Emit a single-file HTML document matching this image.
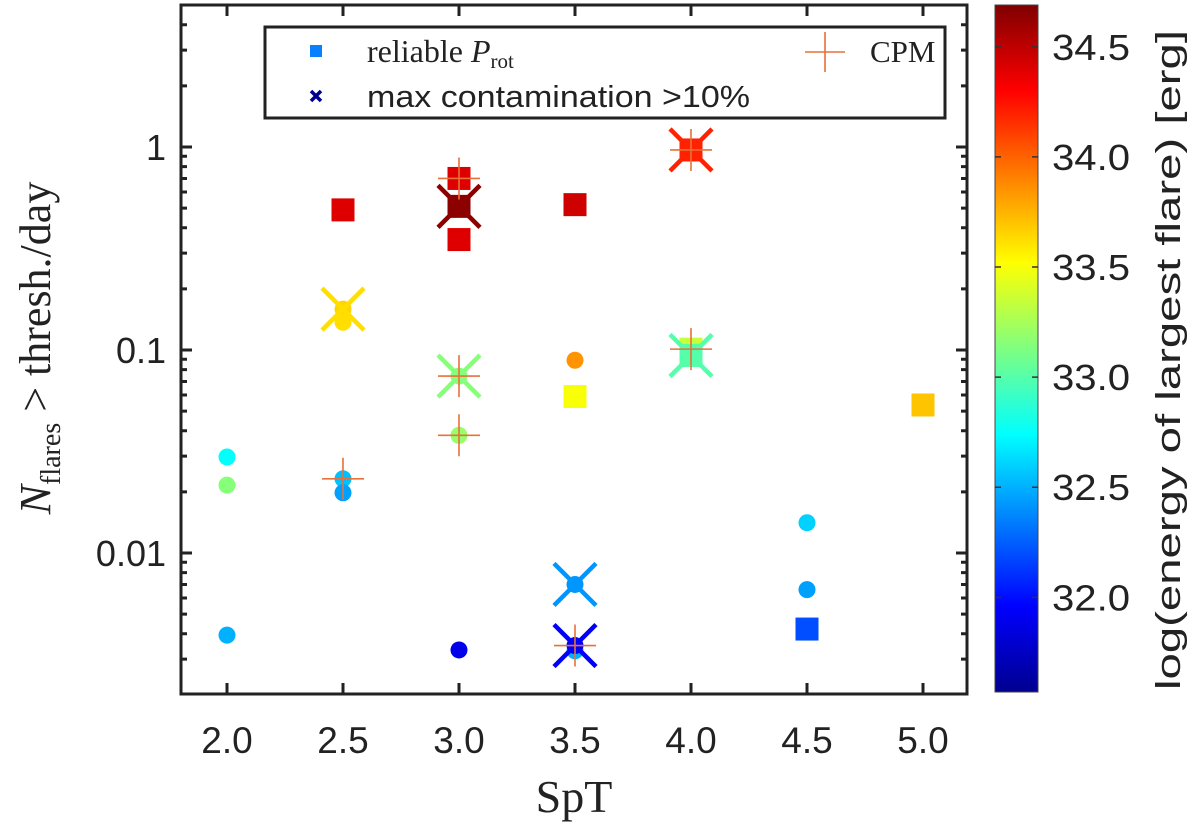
<!DOCTYPE html>
<html><head><meta charset="utf-8"><style>
html,body{margin:0;padding:0;background:#fff}
svg{display:block}
text{fill:#222}
.sans{font-family:"Liberation Sans",sans-serif}
.serif{font-family:"Liberation Serif",serif}
</style></head><body>
<svg id="chart" width="1200" height="832" viewBox="0 0 1200 832">
<defs>
<linearGradient id="jet" x1="0" y1="1" x2="0" y2="0">
<stop offset="0" stop-color="#00008f"/><stop offset="0.125" stop-color="#0000ff"/>
<stop offset="0.375" stop-color="#00ffff"/><stop offset="0.625" stop-color="#ffff00"/>
<stop offset="0.875" stop-color="#ff0000"/><stop offset="1" stop-color="#800000"/>
</linearGradient>
</defs>
<g id="marks"></g>
<g id="axes"></g>
</svg>
<script>
// circles (all stars)
const circSpT = [2.0, 2.0, 2.0, 2.5, 2.5, 2.5, 2.5, 3.0, 3.0, 3.0, 3.5, 3.5, 3.5, 3.5, 4.0, 4.5, 4.5];
const circRate = [0.0297, 0.0216, 0.00394, 0.159, 0.137, 0.0232, 0.0198, 0.0744, 0.038, 0.00333, 0.089, 0.0070, 0.0033, 0.0035, 0.094, 0.0141, 0.0066];
const circE = [32.75, 33.15, 32.5, 33.65, 33.62, 32.55, 32.45, 33.15, 33.2, 31.9, 33.85, 32.42, 32.5, 31.95, 33.0, 32.6, 32.45];
// squares (reliable Prot)
const sqSpT = [2.5, 3.0, 3.0, 3.0, 3.5, 3.5, 4.0, 4.0, 4.0, 4.5, 5.0];
const sqRate = [0.49, 0.70, 0.35, 0.51, 0.52, 0.059, 0.967, 0.101, 0.094, 0.00422, 0.0536];
const sqE = [34.4, 34.4, 34.4, 34.65, 34.45, 33.5, 34.2, 33.35, 33.0, 32.2, 33.7];
// crosses (max contamination >10%)
const xSpT = [2.5, 3.0, 3.0, 3.5, 3.5, 4.0, 4.0];
const xRate = [0.159, 0.51, 0.0744, 0.0070, 0.0035, 0.967, 0.094];
const xE = [33.62, 34.65, 33.15, 32.42, 31.95, 34.2, 33.0];
// CPM plus
const pSpT = [2.5, 3.0, 3.0, 3.0, 3.5, 4.0, 4.0];
const pRate = [0.0232, 0.70, 0.0744, 0.038, 0.0035, 0.967, 0.101];
const xTicks = [2.0, 2.5, 3.0, 3.5, 4.0, 4.5, 5.0];
const xTickLabels = ["2.0","2.5","3.0","3.5","4.0","4.5","5.0"];
const yTicks = [1, 0.1, 0.01];
const yTickLabels = ["1","0.1","0.01"];
const cTicks = [32.0, 32.5, 33.0, 33.5, 34.0, 34.5];
const cTickLabels = ["32.0","32.5","33.0","33.5","34.0","34.5"];

const NS = "http://www.w3.org/2000/svg";
const L = 181, R = 967, T = 5, B = 694;
const sx = v => 227 + (v - 2.0) * 232;
const sy = v => 147 - Math.log10(v) * 203;
const cMin = 31.57, cMax = 34.69, cT = 5, cB = 692;
const cy = v => cB - (v - cMin) / (cMax - cMin) * (cB - cT);
function jet(e) {
  let t = (e - cMin) / (cMax - cMin); t = Math.max(0, Math.min(1, t));
  const f = x => Math.max(0, Math.min(1, x));
  const r = f(Math.min(4 * t - 1.5, -4 * t + 4.5));
  const g = f(Math.min(4 * t - 0.5, -4 * t + 3.5));
  const b = f(Math.min(4 * t + 0.5, -4 * t + 2.5));
  return `rgb(${Math.round(r*255)},${Math.round(g*255)},${Math.round(b*255)})`;
}
function mk(tag, attrs, parent) {
  const el = document.createElementNS(NS, tag);
  for (const k in attrs) el.setAttribute(k, attrs[k]);
  parent.appendChild(el); return el;
}
const marks = document.getElementById('marks');
const axes = document.getElementById('axes');

circSpT.forEach((s, i) => {
  const el = mk('circle', {cx: sx(s), cy: sy(circRate[i]), r: 8.5, fill: jet(circE[i])}, marks);
  
  
});
sqSpT.forEach((s, i) => {
  const el = mk('rect', {x: sx(s) - 11.5, y: sy(sqRate[i]) - 11.5, width: 23, height: 23, fill: jet(sqE[i])}, marks);
  
  
});
xSpT.forEach((s, i) => {
  const X = sx(s), Y = sy(xRate[i]), d = 21;
  const el = mk('path', {d: `M${X-d},${Y-d}L${X+d},${Y+d}M${X-d},${Y+d}L${X+d},${Y-d}`, stroke: jet(xE[i]), 'stroke-width': 4.5, fill: 'none'}, marks);
  
  
});
pSpT.forEach((s, i) => {
  const X = sx(s), Y = sy(pRate[i]), d = 21;
  const el = mk('path', {d: `M${X-d},${Y}L${X+d},${Y}M${X},${Y-d}L${X},${Y+d}`, stroke: '#e8703a', 'stroke-width': 1.6, fill: 'none'}, marks);
  
  
});

const fr = mk('rect', {x: L, y: T, width: R - L, height: B - T, fill: 'none', stroke: '#222', 'stroke-width': 3}, axes);


xTicks.forEach((v, i) => {
  const X = sx(v);
  mk('path', {d: `M${X},${B}L${X},${B-11}M${X},${T}L${X},${T+11}`, stroke: '#222', 'stroke-width': 3}, axes);
  const t = mk('text', {x: X, y: 753, 'text-anchor': 'middle', 'font-size': 37, class: 'sans'}, axes);
  t.textContent = xTickLabels[i];
  
  
});
yTicks.forEach((v, i) => {
  const Y = sy(v);
  mk('path', {d: `M${L},${Y}L${L+11},${Y}M${R},${Y}L${R-11},${Y}`, stroke: '#222', 'stroke-width': 3}, axes);
  const t = mk('text', {x: 166, y: Y + 13, 'text-anchor': 'end', 'font-size': 36, class: 'sans'}, axes);
  t.textContent = yTickLabels[i];
  
  
});
for (let dec = -3; dec <= 0; dec++) for (let m = 2; m <= 9; m++) {
  const v = m * Math.pow(10, dec), Y = sy(v);
  if (Y < T + 2 || Y > B - 2) continue;
  mk('path', {d: `M${L},${Y}L${L+6},${Y}M${R},${Y}L${R-6},${Y}`, stroke: '#222', 'stroke-width': 3}, axes);
}
let t = mk('text', {x: 574, y: 812, 'text-anchor': 'middle', 'font-size': 46, class: 'serif'}, axes);
t.textContent = 'SpT';


t = mk('text', {x: 0, y: 0, 'text-anchor': 'middle', 'font-size': 44, class: 'serif', transform: 'translate(50,348) rotate(-90)'}, axes);
t.innerHTML = '<tspan font-style="italic">N</tspan><tspan font-size="28" dy="10">flares</tspan><tspan dy="-10"> &gt; thresh./day</tspan>';



const cb = mk('rect', {x: 995, y: cT, width: 43, height: cB - cT, fill: 'url(#jet)', stroke: '#444', 'stroke-width': 1}, axes);


cTicks.forEach((v, i) => {
  const Y = cy(v);
  mk('path', {d: `M1038,${Y}L1032,${Y}M995,${Y}L1001,${Y}`, stroke: '#333', 'stroke-width': 1.5}, axes);
  const tt = mk('text', {x: 1052, y: Y + 13, 'font-size': 36, class: 'sans', textLength: 78, lengthAdjust: 'spacingAndGlyphs'}, axes);
  tt.textContent = cTickLabels[i];
  
  
});
t = mk('text', {x: 0, y: 0, 'text-anchor': 'middle', 'font-size': 34, class: 'sans', textLength: 660, lengthAdjust: 'spacingAndGlyphs', transform: 'translate(1180,360) rotate(-90)'}, axes);
t.textContent = 'log(energy of largest flare) [erg]';



const lg = mk('g', {}, axes);


mk('rect', {x: 265, y: 27, width: 680, height: 91, fill: '#fff', stroke: '#222', 'stroke-width': 3}, lg);
mk('rect', {x: 310, y: 45, width: 12, height: 12, fill: '#0a80ff'}, lg);
t = mk('text', {x: 367, y: 62, 'font-size': 32, class: 'serif'}, lg);
t.innerHTML = 'reliable <tspan font-style="italic">P</tspan><tspan font-size="21" dy="6">rot</tspan>';


mk('path', {d: 'M311,91L321,101M311,101L321,91', stroke: '#00008f', 'stroke-width': 3.5}, lg);
t = mk('text', {x: 367, y: 107, 'font-size': 31, class: 'sans', textLength: 383, lengthAdjust: 'spacingAndGlyphs'}, lg);
t.textContent = 'max contamination >10%';


mk('path', {d: 'M805,52L845,52M825,32L825,72', stroke: '#e8703a', 'stroke-width': 1.6}, lg);
t = mk('text', {x: 870, y: 62, 'font-size': 31, class: 'serif'}, lg);
t.textContent = 'CPM';


</script>
</body></html>
